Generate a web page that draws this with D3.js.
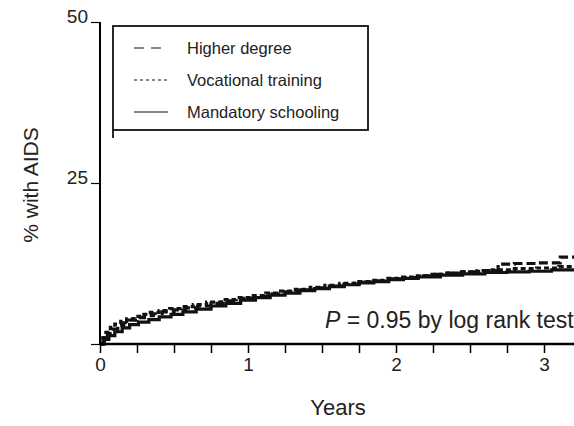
<!DOCTYPE html>
<html>
<head>
<meta charset="utf-8">
<script src="https://cdn.jsdelivr.net/npm/d3@7"></script>
<style>
  body { margin: 0; background: #fff; }
  svg { display: block; font-family: "Liberation Sans", Arial, sans-serif; }
</style>
</head>
<body>
<div id="chart"></div>
<script>
// Kaplan-Meier style cumulative incidence
const higherTimes = [0, 0.02, 0.05, 0.08, 0.12, 0.16, 0.2, 0.25, 0.3, 0.36, 0.42, 0.5, 0.58, 0.66, 0.75, 0.85, 0.95, 1.05, 1.15, 1.25, 1.35, 1.45, 1.55, 1.65, 1.75, 1.85, 1.95, 2.05, 2.15, 2.25, 2.35, 2.45, 2.55, 2.69, 2.8, 2.95, 3.11, 3.25];
const higherPct   = [0, 0.8, 1.6, 2.3, 2.9, 3.3, 3.7, 4.1, 4.4, 4.7, 5.0, 5.3, 5.6, 5.9, 6.3, 6.7, 7.1, 7.4, 7.8, 8.1, 8.4, 8.7, 9.0, 9.3, 9.6, 9.8, 10.1, 10.3, 10.6, 10.8, 11.0, 11.2, 11.4, 12.4, 12.5, 12.6, 13.5, 13.5];
const vocTimes = [0, 0.02, 0.04, 0.07, 0.1, 0.14, 0.18, 0.23, 0.28, 0.34, 0.4, 0.47, 0.55, 0.63, 0.72, 0.82, 0.92, 1.02, 1.12, 1.22, 1.32, 1.42, 1.52, 1.62, 1.72, 1.82, 1.92, 2.02, 2.12, 2.22, 2.32, 2.42, 2.52, 2.65, 2.8, 2.95, 3.1, 3.25];
const vocPct   = [0, 1.0, 1.8, 2.6, 3.1, 3.5, 3.9, 4.3, 4.6, 4.9, 5.2, 5.5, 5.8, 6.1, 6.5, 6.9, 7.2, 7.5, 7.9, 8.2, 8.5, 8.8, 9.1, 9.4, 9.7, 9.9, 10.2, 10.4, 10.6, 10.8, 11.0, 11.2, 11.3, 11.5, 11.7, 11.8, 12.0, 12.0];
const mandTimes = [0, 0.03, 0.06, 0.1, 0.15, 0.2, 0.26, 0.33, 0.4, 0.48, 0.56, 0.65, 0.75, 0.85, 0.95, 1.05, 1.15, 1.25, 1.35, 1.45, 1.55, 1.65, 1.75, 1.85, 1.95, 2.05, 2.15, 2.3, 2.45, 2.6, 2.75, 2.9, 3.05, 3.25];
const mandPct   = [0, 0.7, 1.3, 1.9, 2.5, 3.0, 3.4, 3.8, 4.2, 4.6, 5.0, 5.4, 5.9, 6.3, 6.8, 7.2, 7.6, 7.9, 8.3, 8.6, 8.9, 9.2, 9.5, 9.7, 10.0, 10.2, 10.4, 10.7, 10.9, 11.1, 11.2, 11.3, 11.5, 11.6];

const seriesNames = ["Higher degree", "Vocational training", "Mandatory schooling"];
const yTicks = [0, 25, 50];
const xTicks = [0, 1, 2, 3];

const width = 574, height = 426;
const margin = { top: 22, left: 100, bottom: 82 };

const x = d3.scaleLinear().domain([0, 1]).range([margin.left, 248]);
const y = d3.scaleLinear().domain([0, 50]).range([height - margin.bottom, margin.top]);

const svg = d3.select("#chart").append("svg")
    .attr("width", width)
    .attr("height", height);

const series = [
    { name: seriesNames[0], t: higherTimes, v: higherPct, dash: "9,4" },
    { name: seriesNames[1], t: vocTimes, v: vocPct, dash: "5,3" },
    { name: seriesNames[2], t: mandTimes, v: mandPct, dash: null }
];

svg.append("clipPath").attr("id", "clip")
    .append("rect")
    .attr("x", margin.left).attr("y", 0)
    .attr("width", width - margin.left).attr("height", height);

const line = d3.line()
    .x(d => x(d[0]))
    .y(d => y(d[1]))
    .curve(d3.curveStepAfter);

const curves = svg.append("g").attr("clip-path", "url(#clip)");
series.forEach(s => {
    curves.append("path")
        .datum(d3.zip(s.t, s.v))
        .attr("fill", "none")
        .attr("stroke", "#111")
        .attr("stroke-width", 3.2)
        .attr("stroke-dasharray", s.dash)
        .attr("d", line);
});

// x axis with minor ticks every quarter year
const xMinor = d3.range(0, 3.26, 0.25);
const xAxis = d3.axisBottom(x)
    .tickValues(xMinor)
    .tickSize(9)
    .tickPadding(5)
    .tickFormat(d => xTicks.includes(d) ? d : "");
const gx = svg.append("g")
    .attr("transform", `translate(0, ${y(0)})`)
    .call(xAxis);
gx.select(".domain").attr("d", `M${margin.left},0H${width}`).attr("stroke-width", 2.5);
gx.selectAll(".tick line").attr("stroke-width", 1.5);
gx.selectAll(".tick text").attr("font-size", 19).attr("fill", "#222");

const yAxis = d3.axisLeft(y)
    .tickValues(yTicks)
    .tickSize(9)
    .tickPadding(3)
    .tickFormat(d => d === 0 ? "" : d);
const gy = svg.append("g")
    .attr("transform", `translate(${margin.left}, 0)`)
    .call(yAxis);
gy.select(".domain").attr("d", `M0,${y(50)}V${y(0)}`).attr("stroke-width", 2);
gy.selectAll(".tick line").attr("stroke-width", 1.2);
gy.selectAll(".tick text").attr("font-size", 19).attr("fill", "#222").attr("dy", "0.05em");

// axis titles
svg.append("text")
    .attr("x", 338).attr("y", 415)
    .attr("text-anchor", "middle")
    .attr("font-size", 22)
    .attr("fill", "#222")
    .text("Years");

svg.append("text")
    .attr("transform", "translate(38, 185) rotate(-90)")
    .attr("text-anchor", "middle")
    .attr("font-size", 21)
    .attr("fill", "#222")
    .text("% with AIDS");

// p value note
const pText = svg.append("text")
    .attr("x", 325).attr("y", 328)
    .attr("font-size", 23)
    .attr("fill", "#222");
pText.append("tspan").attr("font-style", "italic").text("P");
pText.append("tspan").text(" = 0.95 by log rank test");

// legend
const lg = svg.append("g");
lg.append("rect")
    .attr("x", 113).attr("y", 26)
    .attr("width", 255).attr("height", 104)
    .attr("fill", "#fff")
    .attr("stroke", "#111")
    .attr("stroke-width", 1.8);
lg.append("line")
    .attr("x1", 113).attr("x2", 113)
    .attr("y1", 130).attr("y2", 138)
    .attr("stroke", "#111").attr("stroke-width", 1.8);

series.forEach((s, i) => {
    const yy = 48 + i * 32;
    lg.append("line")
        .attr("x1", 134).attr("x2", 168)
        .attr("y1", yy).attr("y2", yy)
        .attr("stroke", "#111")
        .attr("stroke-width", 1.2)
        .attr("stroke-dasharray", i === 0 ? "10,7" : i === 1 ? "3,3" : null);
    lg.append("text")
        .attr("x", 187).attr("y", yy + 6)
        .attr("font-size", 16.5)
        .attr("fill", "#222")
        .text(s.name);
});
</script>
</body>
</html>
